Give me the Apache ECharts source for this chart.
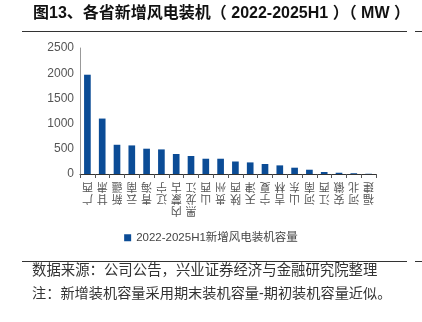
<!DOCTYPE html>
<html><head><meta charset="utf-8">
<script src="https://cdn.jsdelivr.net/npm/echarts@6/dist/echarts.min.js"></script>
<style>html,body{margin:0;padding:0;background:#fff}#c{width:422px;height:322px}</style>
</head><body><div id="c"></div>
<script>
var categories = ['广西','甘肃','新疆','云南','青海','辽宁','内蒙古','黑龙江','山西','贵州','陕西','天津','宁夏','吉林','山东','河南','江西','安徽','河北','福建'];
var values = [1970,1100,580,567,502,488,397,357,303,303,248,230,198,171,125,85,40,25,15,5];
var seriesName = '2022-2025H1新增风电装机容量';
var yTicks = [0,500,1000,1500,2000,2500];

var font = '"Liberation Sans","Noto Sans CJK SC",sans-serif';
var chart = echarts.init(document.getElementById('c'), null, {renderer:'canvas'});
chart.setOption({
  animation:false,
  textStyle:{fontFamily:font},
  grid:{left:80,right:46,top:48,bottom:148,containLabel:false},
  legend:{show:true,top:227,left:'center',itemWidth:7,itemHeight:7,itemGap:3,icon:'rect',
    textStyle:{fontSize:11.5,color:'#444',fontFamily:font},data:[seriesName]},
  xAxis:{type:'category',data:categories,
    axisLine:{lineStyle:{color:'#333',width:1}},
    axisTick:{show:true,length:4,lineStyle:{color:'#555'}},
    axisLabel:{interval:0,fontSize:11,color:'#555',lineHeight:12,margin:6,rotate:180,
      formatter:function(v){return v.split('').join('\n');}}},
  yAxis:{type:'value',min:yTicks[0],max:yTicks[yTicks.length-1],interval:500,
    axisLine:{show:true,lineStyle:{color:'#999'}},
    axisTick:{show:false},
    splitLine:{show:false},
    axisLabel:{fontSize:12,color:'#555',margin:6,formatter:function(v){return String(v);}}},
  series:[{name:seriesName,type:'bar',data:values,barWidth:'45%',
    itemStyle:{color:'#0B4C96'}}],
  graphic:[
    {type:'text',left:33,top:6,style:{text:'图13、各省新增风电装机（ 2022-2025H1 ）（ MW ）',font:'bold 16px '+font,fill:'#111'}},
    {type:'line',shape:{x1:22,y1:31.5,x2:407,y2:31.5},style:{stroke:'#333',lineWidth:1}},
    {type:'line',shape:{x1:415,y1:31.5,x2:422,y2:31.5},style:{stroke:'#333',lineWidth:1}},
    {type:'line',shape:{x1:22,y1:261.5,x2:407,y2:261.5},style:{stroke:'#333',lineWidth:1}},
    {type:'line',shape:{x1:415,y1:261.5,x2:422,y2:261.5},style:{stroke:'#333',lineWidth:1}},
    {type:'text',left:32,top:264,style:{text:'数据来源：公司公告，兴业证券经济与金融研究院整理',font:'14.4px '+font,fill:'#333'}},
    {type:'text',left:32,top:287,style:{text:'注：新增装机容量采用期末装机容量-期初装机容量近似。',font:'14.2px '+font,fill:'#333'}}
  ]
});
</script></body></html>
